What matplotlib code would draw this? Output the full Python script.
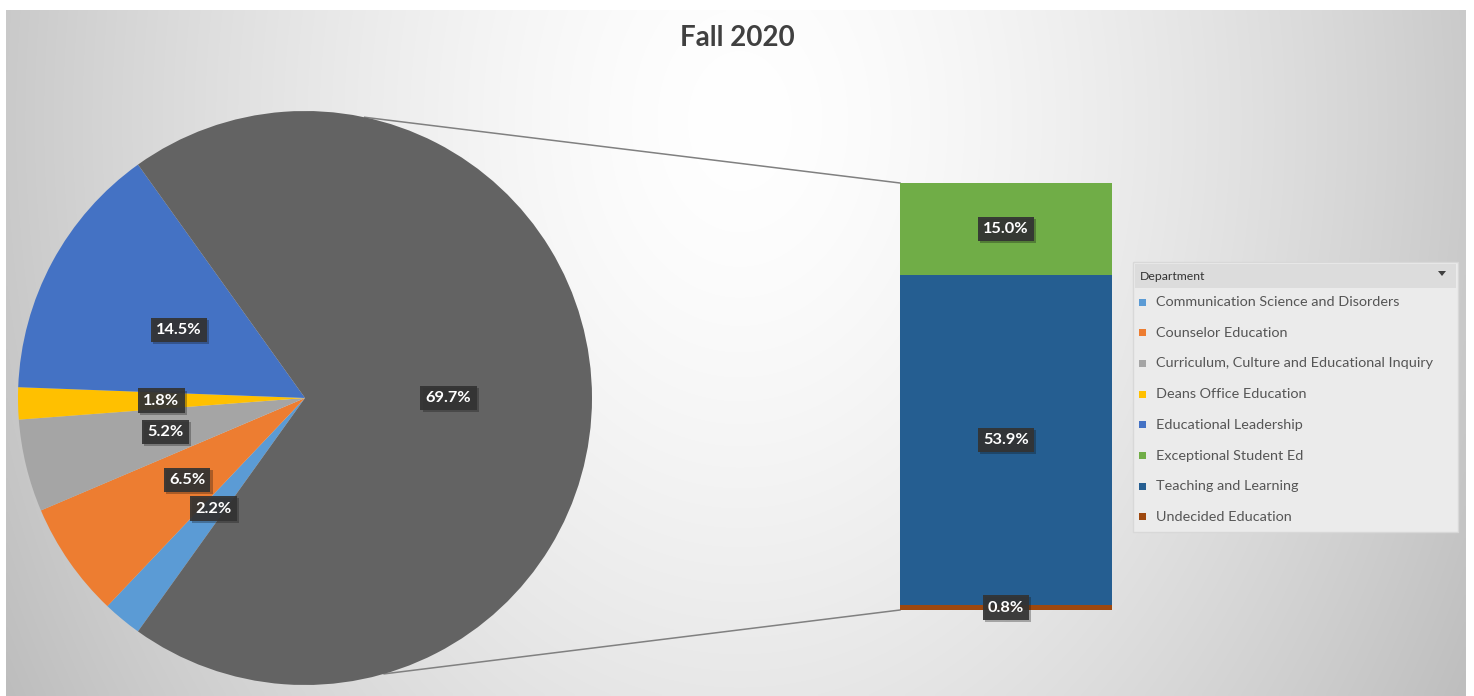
import numpy as np
import matplotlib
matplotlib.use("Agg")
import matplotlib.pyplot as plt
from matplotlib.patches import Rectangle, Polygon
from matplotlib.lines import Line2D
import matplotlib.patheffects as pe

# ---------------- data ----------------
title = "Fall 2020"
legend_title = "Department"
pie_labels = ["Communication Science and Disorders", "Counselor Education",
              "Curriculum, Culture and Educational Inquiry", "Deans Office Education",
              "Educational Leadership"]
pie_values = [2.2, 6.5, 5.2, 1.8, 14.5]
pie_colors = ["#5B9BD5", "#ED7D31", "#A5A5A5", "#FFC000", "#4472C4"]

bar_labels = ["Undecided Education", "Teaching and Learning", "Exceptional Student Ed"]
bar_values = [0.8, 53.9, 15.0]
bar_colors = ["#9E480E", "#255E91", "#70AD47"]
other_color = "#636363"

legend_order = ["Communication Science and Disorders", "Counselor Education",
                "Curriculum, Culture and Educational Inquiry", "Deans Office Education",
                "Educational Leadership", "Exceptional Student Ed",
                "Teaching and Learning", "Undecided Education"]

# ---------------- figure ----------------
W, H = 1474, 696
fig = plt.figure(figsize=(W / 100, H / 100), dpi=100, facecolor="white")
FONT = ["Lato", "DejaVu Sans"]

# background with radial gradient
bg = fig.add_axes([0, 0, 1, 1])
bg.set_xlim(0, W)
bg.set_ylim(H, 0)
bg.axis("off")
xs = np.linspace(6, 1466, 400)
ys = np.linspace(10, 696, 200)
X, Y = np.meshgrid(xs, ys)
d = np.sqrt(((X - 740) / 740) ** 2 + ((Y - 120) / 1000) ** 2)
val = 1 - 0.21 * np.clip(d, 0, 1.25) ** 1.5
val = np.clip(val, 0, 1)
bg.imshow(np.dstack([val, val, val]), extent=(6, 1466, 696, 10), aspect="auto",
          interpolation="bilinear", zorder=0)

# ---------------- pie ----------------
cx, cy, R = 305, 398, 287
pax = fig.add_axes([(cx - R) / W, (H - cy - R) / H, 2 * R / W, 2 * R / H])
other_value = sum(bar_values)
vals = pie_values + [other_value]
cols = pie_colors + [other_color]
total = sum(vals)
start = 180 + 180 * (1 - other_value / total)
wedges, _ = pax.pie(vals, colors=cols, startangle=start, counterclock=False,
                    radius=1, frame=True, wedgeprops=dict(linewidth=0))
pax.set_xlim(-1, 1)
pax.set_ylim(-1, 1)
pax.axis("off")

box = dict(boxstyle="square,pad=0.32", facecolor="#333333", edgecolor="none", alpha=0.92)
shadow = [pe.withSimplePatchShadow(offset=(1.5, -1.5), alpha=0.3)]


def label(ax, x, y, s):
    t = ax.text(x, y, s, ha="center", va="center", color="white", fontsize=11.8,
                fontweight="bold", family=FONT, bbox=box, zorder=10)
    t.get_bbox_patch().set_path_effects(shadow)


for w, v in zip(wedges, vals):
    mid = np.deg2rad((w.theta1 + w.theta2) / 2)
    label(pax, 0.5 * np.cos(mid), 0.5 * np.sin(mid), f"{v:.1f}%")

# ---------------- bar ----------------
bx0, bx1, by0, by1 = 900, 1112, 183, 610
bax = fig.add_axes([bx0 / W, (H - by1) / H, (bx1 - bx0) / W, (by1 - by0) / H])
bottoms = np.concatenate([[0], np.cumsum(bar_values)[:-1]])
bax.bar(0, bar_values, bottom=bottoms, width=1, color=bar_colors, linewidth=0)
bax.set_xlim(-0.5, 0.5)
bax.set_ylim(0, sum(bar_values))
bax.axis("off")
for b, v in zip(bottoms, bar_values):
    label(bax, 0, b + v / 2, f"{v:.1f}%")

# ---------------- connector lines ----------------
a_top, a_bot = np.deg2rad(78), np.deg2rad(-74)
bg.add_line(Line2D([cx + R * np.cos(a_top), bx0], [cy - R * np.sin(a_top), by0],
                   color="#808080", lw=1.1, zorder=1))
bg.add_line(Line2D([cx + R * np.cos(a_bot), bx0], [cy - R * np.sin(a_bot), by1],
                   color="#808080", lw=1.1, zorder=1))

# ---------------- title ----------------
fig.text(737 / W, 1 - 38 / H, title, ha="center", va="center", fontsize=20,
         fontweight="bold", color="#404040", family=FONT)

# ---------------- legend (pivot field list style) ----------------
lx0, lx1, ly0, ly1 = 1133, 1458, 262, 532
bg.add_patch(Rectangle((lx0, ly0), lx1 - lx0, ly1 - ly0, facecolor="#ebebeb",
                       edgecolor="#d8d8d8", lw=1, zorder=2))
bg.add_patch(Rectangle((lx0 + 2, ly0 + 2), lx1 - lx0 - 4, 24, facecolor="#dcdcdc",
                       edgecolor="none", zorder=3))
bg.text(lx0 + 7, ly0 + 14, legend_title, ha="left", va="center", fontsize=8.8,
        color="#333333", family=FONT, zorder=4)
bg.add_patch(Polygon([[1438, 271], [1446, 271], [1442, 276]], closed=True,
                     facecolor="#404040", edgecolor="none", zorder=4))
color_map = dict(zip(pie_labels + bar_labels, pie_colors + bar_colors))
for i, name in enumerate(legend_order):
    yy = 302 + i * 30.7
    bg.add_patch(Rectangle((1139, yy - 3.5), 7, 7, facecolor=color_map[name],
                           edgecolor="none", zorder=4))
    bg.text(1156, yy, name, ha="left", va="center", fontsize=10.4, color="#555555",
            family=FONT, zorder=4)

fig.savefig("out.png", dpi=100, facecolor="white")
